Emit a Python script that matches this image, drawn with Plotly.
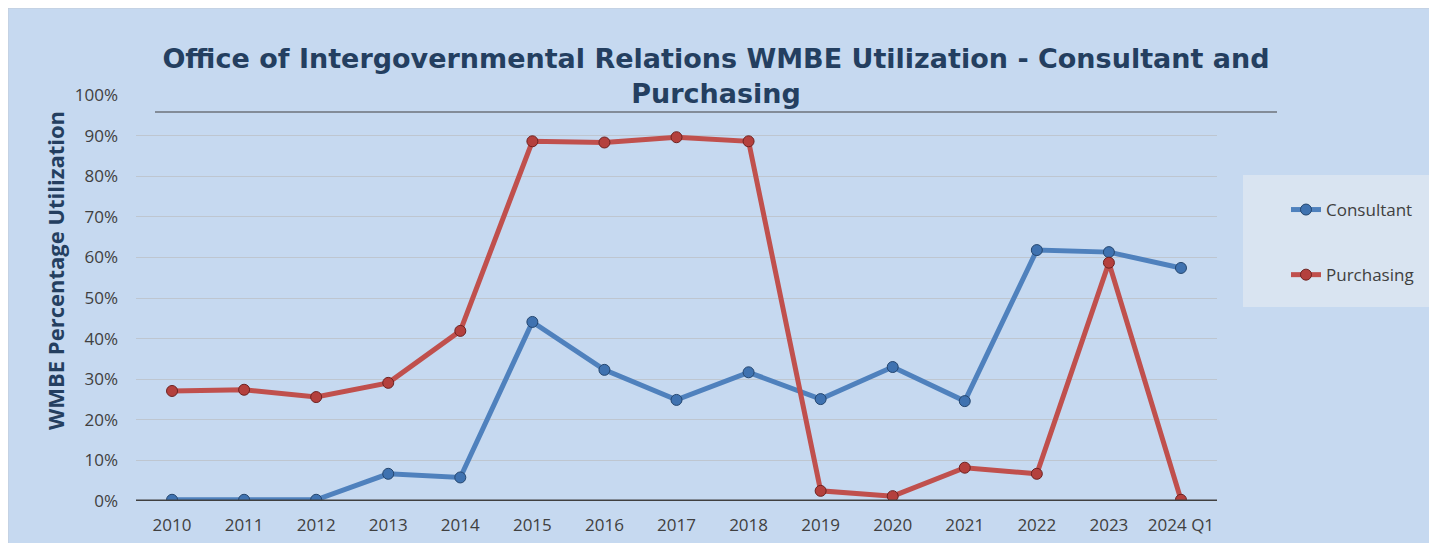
import plotly.graph_objects as go

categories = ["2010", "2011", "2012", "2013", "2014", "2015", "2016", "2017",
              "2018", "2019", "2020", "2021", "2022", "2023", "2024 Q1"]
consultant = [0.3, 0.3, 0.3, 6.7, 5.8, 44.1, 32.3, 24.9, 31.7, 25.1, 33.0, 24.6, 61.8, 61.3, 57.4]
purchasing = [27.1, 27.4, 25.6, 29.1, 41.9, 88.6, 88.3, 89.6, 88.6, 2.5, 1.2, 8.2, 6.7, 58.7, 0.3]
y_ticks = [0, 10, 20, 30, 40, 50, 60, 70, 80, 90, 100]
y_tick_labels = [f"{v}%" for v in y_ticks]

OFF = 8  # page body margin
W, H = 1429, 535
L, T = 136 - OFF, 95 - OFF
R = W - (1217 - OFF)
B = H - (501 - OFF)
PW, PH = W - L - R, H - T - B

def px(x):  # screen x -> paper
    return (x - OFF - L) / PW

def py(y):  # screen y -> paper
    return (H - B - (y - OFF)) / PH

BG = "#C6D9F0"
fig = go.Figure()
fig.add_trace(go.Scatter(
    x=categories, y=consultant, name="Consultant", mode="lines+markers",
    line=dict(color="#4F81BD", width=5),
    marker=dict(size=11, color="#3F72B0", line=dict(color="#24466F", width=1)),
    legendgroup="a"))
fig.add_trace(go.Scatter(
    x=categories, y=purchasing, name="Purchasing", mode="lines+markers",
    line=dict(color="#C0504D", width=5),
    marker=dict(size=11, color="#B4403D", line=dict(color="#6E2220", width=1)),
    legendgroup="b"))

shapes = [
    dict(type="rect", xref="paper", yref="paper", x0=px(7.5), x1=px(W + OFF + 5), y0=py(H + OFF + 5), y1=py(7.5),
         fillcolor="rgba(0,0,0,0)", line=dict(color="#BFBFBF", width=1.5), layer="below"),
    dict(type="rect", xref="paper", yref="paper", x0=px(155), x1=px(1277), y0=py(112), y1=py(25),
         fillcolor=BG, line=dict(width=0), layer="above"),
    dict(type="line", xref="paper", yref="paper", x0=px(155), x1=px(1277), y0=py(112), y1=py(112),
         line=dict(color="#404040", width=1.2), layer="above"),
    dict(type="rect", xref="paper", yref="paper", x0=px(1243), x1=px(W + OFF + 5), y0=py(307), y1=py(175),
         fillcolor="#D9E4F1", line=dict(width=0), layer="below"),
]

fig.update_layout(
    width=W, height=H,
    margin=dict(l=L, r=R, t=T, b=B, autoexpand=False),
    paper_bgcolor=BG,
    plot_bgcolor="rgba(0,0,0,0)",
    font=dict(family="Open Sans, DejaVu Sans, sans-serif", color="#404040", size=16),
    title=dict(text="<b>Office of Intergovernmental Relations WMBE Utilization - Consultant and<br>Purchasing</b>",
               x=px(716), xref="paper", xanchor="center", y=1 - 60 / H, yanchor="middle",
               font=dict(family="DejaVu Sans, Verdana, sans-serif", size=27, color="#243F60")),
    xaxis=dict(type="category", categoryorder="array", categoryarray=categories,
               range=[-0.5, len(categories) - 0.5], showgrid=False, showline=False,
               zeroline=False, ticks="", ticklabelstandoff=12, automargin=False,
               tickfont=dict(size=17, color="#404040")),
    yaxis=dict(range=[0, 100], tickvals=y_ticks, ticktext=y_tick_labels, showgrid=True,
               gridcolor="#BEC6D0", gridwidth=1, zeroline=False, showline=False, automargin=False,
               ticks="", ticklabelstandoff=17, tickfont=dict(size=17, color="#404040")),
    legend=dict(x=px(1286), y=py(192), xanchor="left", yanchor="top",
                bgcolor="rgba(0,0,0,0)", font=dict(size=17, color="#404040"),
                tracegroupgap=40, traceorder="grouped"),
    shapes=shapes,
    annotations=[dict(text="<b>WMBE Percentage Utilization</b>", xref="paper", yref="paper",
                      x=px(55), y=py(270), textangle=-90, showarrow=False,
                      font=dict(family="Open Sans, DejaVu Sans, sans-serif", size=22, color="#243F60"),
                      xanchor="center", yanchor="middle")],
)
# zero baseline
fig.add_hline(y=0, line=dict(color="#404040", width=3), layer="above")
fig.write_html("out.html")
